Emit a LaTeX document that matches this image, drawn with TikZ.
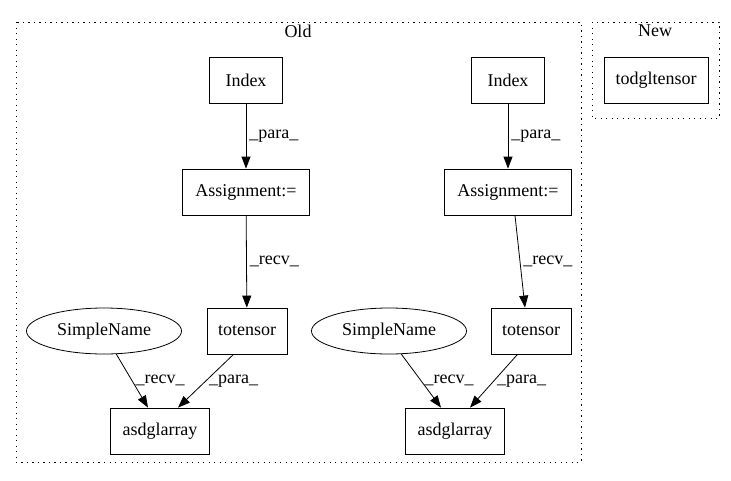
\documentclass[tikz,border=0pt]{standalone}
\usepackage{fontspec}
\setmainfont{Liberation Serif}
\usetikzlibrary{arrows.meta,shapes.geometric}

\begin{document}
\begin{tikzpicture}[x=1pt, y=-1pt, font=\fontsize{18}{20}\selectfont,
  box/.style={draw, thick, minimum height=46pt, inner xsep=0pt},
  oval/.style={draw, thick, ellipse, minimum width=155pt, minimum height=46pt, inner sep=0pt},
  lbl/.style={right, inner sep=3pt},
  cluster/.style={draw, thick, dash pattern=on 1.3pt off 4.2pt},
  edge/.style={-{Triangle[length=12pt,width=9pt]}, thick}]
\useasboundingbox (0,0) rectangle (731,480);
%Clusters
\draw[cluster] (16,22) rectangle (581,462);
\draw[cluster] (592,22) rectangle (719,118);
\node (old) at (298,31) {Old};
\node (new) at (655,31) {New};
% New side
\node[box, minimum width=104pt] (todgl) at (656,80) {todgltensor};
% Old side, left chain
\node[box, minimum width=73pt] (idxA) at (246,80) {Index};
\node[box, minimum width=127pt] (asgA) at (246,192) {Assignment:=};
\node[box, minimum width=80pt] (totA) at (247,331) {totensor};
\node[oval] (snA) at (104,331) {SimpleName};
\node[box, minimum width=99pt] (arrA) at (160,431) {asdglarray};
% Old side, right chain
\node[box, minimum width=73pt] (idxB) at (508,80) {Index};
\node[box, minimum width=127pt] (asgB) at (508,192) {Assignment:=};
\node[box, minimum width=80pt] (totB) at (531,331) {totensor};
\node[oval] (snB) at (389,331) {SimpleName};
\node[box, minimum width=99pt] (arrB) at (455,431) {asdglarray};
% Edges
\draw[edge] (idxA) -- node[lbl] (pA1) {\_para\_} (asgA);
\draw[edge] (asgA) -- node[lbl] (rA1) {\_recv\_} (totA);
\draw[edge] (snA.-62) -- node[lbl] (rA2) {\_recv\_} (arrA.north -| 148,0);
\draw[edge] (totA.-120) -- node[lbl] (pA2) {\_para\_} (arrA.north -| 178,0);
\draw[edge] (idxB) -- node[lbl] (pB1) {\_para\_} (asgB);
\draw[edge] (asgB.south -| 515,0) -- node[lbl] (rB1) {\_recv\_} (totB.north -| 525,0);
\draw[edge] (snB.-62) -- node[lbl] (rB2) {\_recv\_} (arrB.north -| 441,0);
\draw[edge] (totB.-120) -- node[lbl] (pB2) {\_para\_} (arrB.north -| 470,0);
\end{tikzpicture}
\end{document}
